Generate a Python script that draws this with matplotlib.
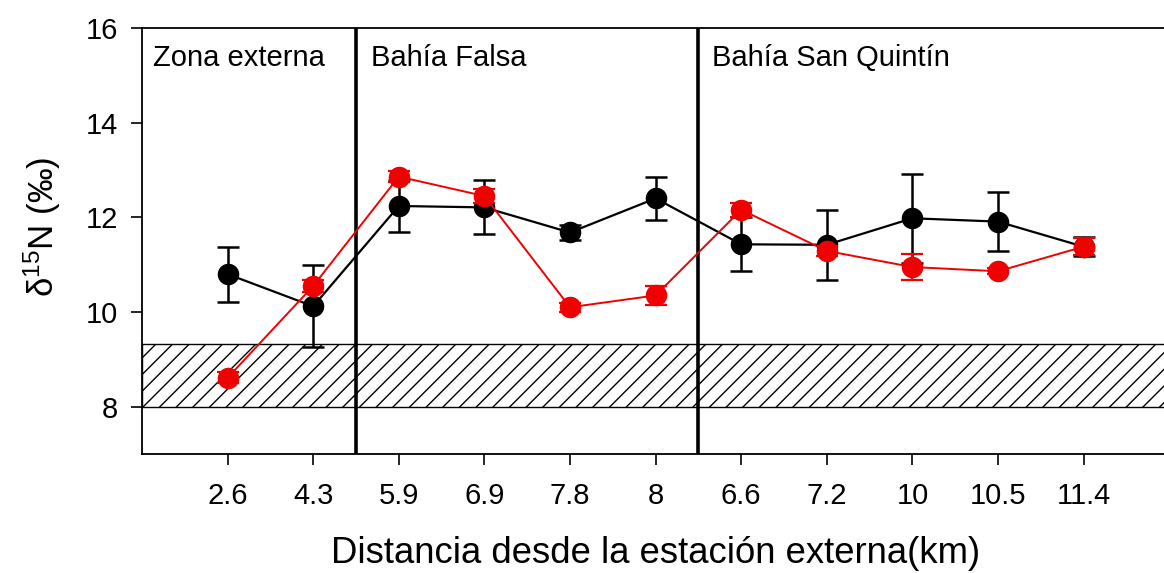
import matplotlib
matplotlib.use("Agg")
import matplotlib.pyplot as plt
import numpy as np

plt.rcParams['font.family'] = ['Liberation Sans', 'DejaVu Sans']
plt.rcParams['hatch.linewidth'] = 1.0

# Station labels (distance from the external station, km)
stations = ["2.6", "4.3", "5.9", "6.9", "7.8", "8", "6.6", "7.2", "10", "10.5", "11.4"]

# Black series: mean and error
black_mean = [10.80, 10.12, 12.24, 12.21, 11.68, 12.40, 11.43, 11.42, 11.98, 11.91, 11.38]
black_err = [0.58, 0.87, 0.54, 0.57, 0.16, 0.46, 0.57, 0.74, 0.94, 0.63, 0.20]

# Red series: mean and error
red_mean = [8.61, 10.55, 12.86, 12.45, 10.10, 10.35, 12.16, 11.29, 10.95, 10.86, 11.38]
red_err = [0.12, 0.12, 0.12, 0.15, 0.10, 0.20, 0.15, 0.10, 0.28, 0.06, 0.18]

# Reference band and zone boundaries
band_low, band_high = 8.0, 9.33
zone_bounds = [2.5, 6.5]
zone_names = ["Zona externa", "Bahía Falsa", "Bahía San Quintín"]
zone_text_x = [0.13, 2.67, 6.66]

x = np.arange(1, len(stations) + 1)

fig = plt.figure(figsize=(11.64, 5.73), dpi=100)
ax = fig.add_axes([142 / 1164, 0.2077, 12 * 85.6 / 1164, 0.7434])

ax.axhspan(band_low, band_high, facecolor='white', edgecolor='black',
           hatch='//', linewidth=1.0, zorder=1)

for b in zone_bounds:
    ax.axvline(b, color='black', linewidth=2.6, zorder=2)

ax.errorbar(x, black_mean, yerr=black_err, color='black', linewidth=1.6,
            elinewidth=1.8, capsize=8, capthick=1.8, marker='o',
            markersize=14.5, zorder=3)
ax.errorbar(x, red_mean, yerr=red_err, color='#f00000', linewidth=1.4,
            elinewidth=1.6, capsize=8, capthick=1.6, marker='o',
            markersize=14.5, zorder=4)

for name, tx in zip(zone_names, zone_text_x):
    ax.text(tx, 15.2, name, fontsize=21, ha='left', va='baseline', zorder=5)

ax.set_xlim(0, 12)
ax.set_ylim(7, 16)
ax.set_xticks(x)
ax.set_xticklabels(stations)
ax.set_yticks([8, 10, 12, 14, 16])
ax.tick_params(axis='both', direction='out', length=8, width=1.2,
               labelsize=21)
ax.tick_params(axis='y', pad=9.5)
ax.tick_params(axis='x', pad=12)
for s in ax.spines.values():
    s.set_linewidth(1.3)
ax.spines['right'].set_visible(False)

ax.set_xlabel("Distancia desde la estación externa(km)", fontsize=26.3, labelpad=19)
ax.set_ylabel(r"$\mathregular{\delta^{15}}$N (‰)", fontsize=25)
ax.yaxis.set_label_coords(-0.077, 0.533)

fig.savefig("out.png", dpi=100)
